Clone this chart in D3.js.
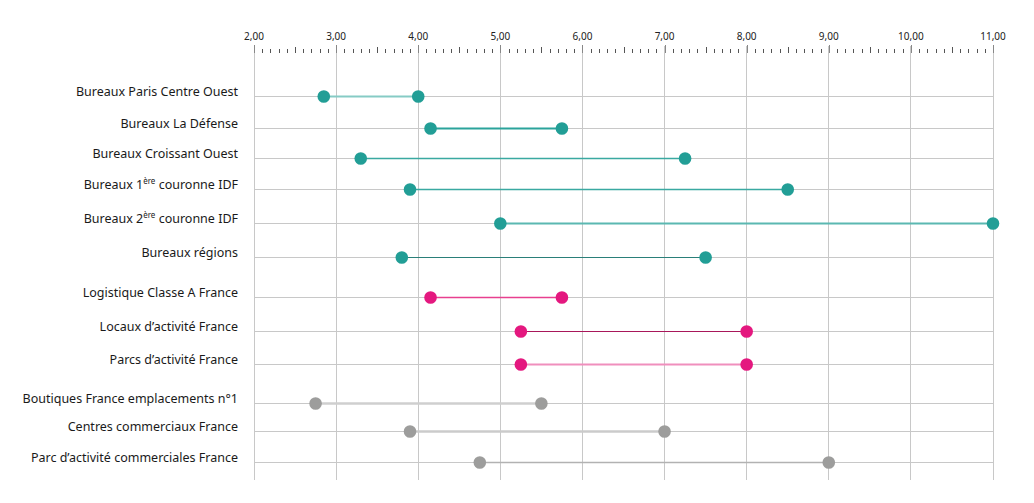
<!DOCTYPE html>
<html><head><meta charset="utf-8">
<script src="https://cdn.jsdelivr.net/npm/d3@7"></script>
<style>
body{margin:0;background:#fff;}
text{font-family:"Noto Sans",sans-serif;}
</style></head>
<body><svg id="c" width="1034" height="503"></svg>
<script>
const categories = [
  "Bureaux Paris Centre Ouest","Bureaux La Défense","Bureaux Croissant Ouest",
  "Bureaux 1ère couronne IDF","Bureaux 2ème couronne IDF","Bureaux régions",
  "Logistique Classe A France","Locaux d’activité France","Parcs d’activité France",
  "Boutiques France emplacements n°1","Centres commerciaux France","Parc d’activité commerciales France"
];
const lowValues  = [2.85, 4.15, 3.30, 3.90, 5.00, 3.80, 4.15, 5.25, 5.25, 2.75, 3.90, 4.75];
const highValues = [4.00, 5.75, 7.25, 8.50, 11.00, 7.50, 5.75, 8.00, 8.00, 5.50, 7.00, 9.00];
const groups = ["bureaux","bureaux","bureaux","bureaux","bureaux","bureaux",
  "industriel","industriel","industriel","commerce","commerce","commerce"];
const tickValues = [2,3,4,5,6,7,8,9,10,11];

// styling / layout
const dotColor = {bureaux:"#229e96", industriel:"#e4187f", commerce:"#9d9d9c"};
const lineStyle = [
  {c:"#86cbc5",w:2.2},{c:"#2ba39b",w:1.8},{c:"#3aa9a1",w:1.5},
  {c:"#3aa9a1",w:1.5},{c:"#5bb8b1",w:1.8},{c:"#2a7f79",w:1.0},
  {c:"#e8408f",w:1.6},{c:"#a8175a",w:1.0},{c:"#f08fbd",w:2.2},
  {c:"#cfcfcf",w:2.4},{c:"#cbcbcb",w:2.4},{c:"#b2b2b2",w:1.6}
];
const rowY = [96,128,158,189,223,257,297,331,364,403,431,462];

const svg = d3.select("#c");
const x = d3.scaleLinear().domain([2,11]).range([254,993]);
const y = d3.scaleOrdinal().domain(categories).range(rowY);
const fmt = v => d3.format(".2f")(v).replace(".", ",");

// vertical gridlines
svg.append("g").selectAll("line").data(tickValues).join("line")
  .attr("x1", d=>x(d)).attr("x2", d=>x(d)).attr("y1", 46).attr("y2", 480)
  .attr("stroke", "#c8c8c8").attr("stroke-width", 1).attr("shape-rendering","crispEdges");

// minor ticks
const minor = d3.range(20, 111).map(i => i/10);
svg.append("g").selectAll("line").data(minor).join("line")
  .attr("x1", d=>Math.round(x(d))+0.5).attr("x2", d=>Math.round(x(d))+0.5)
  .attr("y1", d => (Math.round(d*10)%10===0) ? 45 : (Math.round(d*10)%5===0 ? 47 : 49))
  .attr("y2", 53)
  .attr("stroke", d => (Math.round(d*10)%10===0) ? "#888" : "#555").attr("stroke-width", 1);

// tick labels
svg.append("g").selectAll("text").data(tickValues).join("text")
  .attr("x", d=>x(d)).attr("y", 40).attr("text-anchor","middle")
  .attr("font-size", 10).attr("fill", "#222").text(fmt);

// horizontal gridlines
svg.append("g").selectAll("line").data(categories).join("line")
  .attr("x1", x(2)).attr("x2", x(11)).attr("y1", d=>y(d)+0.5).attr("y2", d=>y(d)+0.5)
  .attr("stroke", "#c8c8c8").attr("stroke-width", 1);

// category labels
const lab = svg.append("g").selectAll("text").data(categories).join("text")
  .attr("x", 238).attr("y", d=>y(d)-0.5).attr("text-anchor","end")
  .attr("font-size", 12.5).attr("fill", "#1a1a1a");
lab.each(function(d){
  const t = d3.select(this);
  const m = d.match(/^(Bureaux \d)(ère|ème)( .*)$/);
  if (m) {
    t.append("tspan").text(m[1]);
    t.append("tspan").attr("font-size", 8).attr("dy", -5).text(m[2] === "ème" ? "ère" : m[2]);
    t.append("tspan").attr("dy", 5).text(m[3]);
  } else t.text(d);
});

// dumbbell lines
svg.append("g").selectAll("line").data(categories).join("line")
  .attr("x1", (d,i)=>x(lowValues[i])).attr("x2", (d,i)=>x(highValues[i]))
  .attr("y1", d=>y(d)+0.5).attr("y2", d=>y(d)+0.5)
  .attr("stroke", (d,i)=>lineStyle[i].c).attr("stroke-width", (d,i)=>lineStyle[i].w);

// dots
const dots = svg.append("g");
dots.selectAll("circle.lo").data(categories).join("circle").attr("class","lo")
  .attr("cx",(d,i)=>x(lowValues[i])).attr("cy", d=>y(d)+0.5).attr("r", 6.3)
  .attr("fill",(d,i)=>dotColor[groups[i]]);
dots.selectAll("circle.hi").data(categories).join("circle").attr("class","hi")
  .attr("cx",(d,i)=>x(highValues[i])).attr("cy", d=>y(d)+0.5).attr("r", 6.3)
  .attr("fill",(d,i)=>dotColor[groups[i]]);
</script></body></html>
